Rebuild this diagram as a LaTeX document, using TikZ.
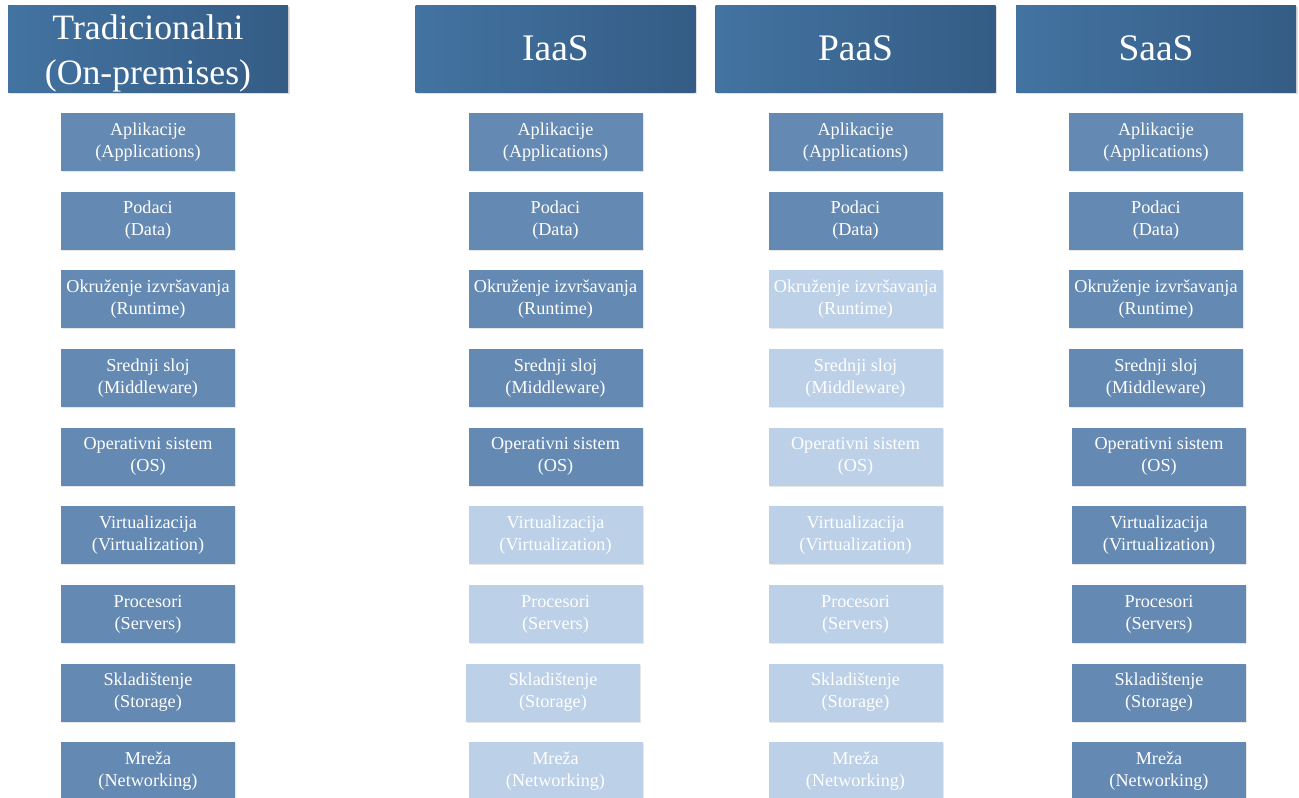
\documentclass[tikz,border=0pt]{standalone}
\usepackage{fontspec}
\setmainfont{Liberation Serif}
\usetikzlibrary{shadows}
\definecolor{hdrA}{HTML}{4373A1}
\definecolor{hdrB}{HTML}{345C85}
\definecolor{darkbox}{HTML}{6489B2}
\definecolor{lightbox}{HTML}{BCD0E8}
\tikzset{
  hdr/.style={minimum width=280pt, minimum height=87pt, inner sep=0pt,
    left color=hdrA, right color=hdrB, text=white, align=center,
    drop shadow={opacity=0.25, shadow xshift=1.5pt, shadow yshift=-1.5pt}},
  layerbox/.style={minimum width=174pt, minimum height=58pt, inner sep=0pt,
    text=white, align=center, font=\fontsize{18.2}{22}\selectfont,
    drop shadow={opacity=0.2, shadow xshift=1pt, shadow yshift=-1pt}},
  dk/.style={layerbox, fill=darkbox},
  lt/.style={layerbox, fill=lightbox},
}
\begin{document}
\begin{tikzpicture}[x=1pt,y=-1pt]
\useasboundingbox (0,0) rectangle (1299,798);
% headers
\node[hdr, font=\fontsize{35.7}{45}\selectfont] (h1) at (148,48.5) {\smash{\raisebox{-11pt}{\begin{tabular}{@{}c@{}}Tradicionalni\\[0pt](On-premises)\end{tabular}}}};
\node[hdr, font=\fontsize{37.5}{45}\selectfont] (h2) at (555.5,48.5) {IaaS};
\node[hdr, font=\fontsize{37.5}{45}\selectfont] (h3) at (855.5,48.5) {PaaS};
\node[hdr, font=\fontsize{37.5}{45}\selectfont] (h4) at (1156,48.5) {SaaS};
% column 1: traditional
\node[dk] (a1) at (148,142) {Aplikacije\\(Applications)};
\node[dk] (a2) at (148,220.5) {Podaci\\(Data)};
\node[dk] (a3) at (148,299) {Okruženje izvršavanja\\(Runtime)};
\node[dk] (a4) at (148,378) {Srednji sloj\\(Middleware)};
\node[dk] (a5) at (148,456.5) {Operativni sistem\\(OS)};
\node[dk] (a6) at (148,535) {Virtualizacija\\(Virtualization)};
\node[dk] (a7) at (148,614) {Procesori\\(Servers)};
\node[dk] (a8) at (148,692.5) {Skladištenje\\(Storage)};
\node[dk] (a9) at (148,771) {Mreža\\(Networking)};
% column 2: IaaS
\node[dk] (b1) at (555.5,142) {Aplikacije\\(Applications)};
\node[dk] (b2) at (555.5,220.5) {Podaci\\(Data)};
\node[dk] (b3) at (555.5,299) {Okruženje izvršavanja\\(Runtime)};
\node[dk] (b4) at (555.5,378) {Srednji sloj\\(Middleware)};
\node[dk] (b5) at (555.5,456.5) {Operativni sistem\\(OS)};
\node[lt] (b6) at (555.5,535) {Virtualizacija\\(Virtualization)};
\node[lt] (b7) at (555.5,614) {Procesori\\(Servers)};
\node[lt] (b8) at (553,692.5) {Skladištenje\\(Storage)};
\node[lt] (b9) at (555.5,771) {Mreža\\(Networking)};
% column 3: PaaS
\node[dk] (c1) at (855.5,142) {Aplikacije\\(Applications)};
\node[dk] (c2) at (855.5,220.5) {Podaci\\(Data)};
\node[lt] (c3) at (855.5,299) {Okruženje izvršavanja\\(Runtime)};
\node[lt] (c4) at (855.5,378) {Srednji sloj\\(Middleware)};
\node[lt] (c5) at (855.5,456.5) {Operativni sistem\\(OS)};
\node[lt] (c6) at (855.5,535) {Virtualizacija\\(Virtualization)};
\node[lt] (c7) at (855.5,614) {Procesori\\(Servers)};
\node[lt] (c8) at (855.5,692.5) {Skladištenje\\(Storage)};
\node[lt] (c9) at (855.5,771) {Mreža\\(Networking)};
% column 4: SaaS
\node[dk] (d1) at (1156,142) {Aplikacije\\(Applications)};
\node[dk] (d2) at (1156,220.5) {Podaci\\(Data)};
\node[dk] (d3) at (1156,299) {Okruženje izvršavanja\\(Runtime)};
\node[dk] (d4) at (1156,378) {Srednji sloj\\(Middleware)};
\node[dk] (d5) at (1159,456.5) {Operativni sistem\\(OS)};
\node[dk] (d6) at (1159,535) {Virtualizacija\\(Virtualization)};
\node[dk] (d7) at (1159,614) {Procesori\\(Servers)};
\node[dk] (d8) at (1159,692.5) {Skladištenje\\(Storage)};
\node[dk] (d9) at (1159,771) {Mreža\\(Networking)};
\end{tikzpicture}
\end{document}
